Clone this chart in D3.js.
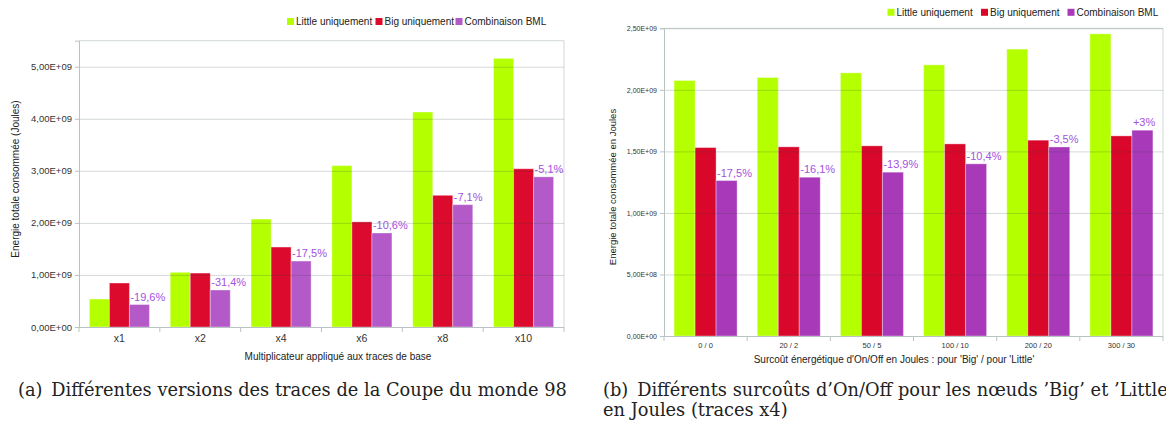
<!DOCTYPE html>
<html>
<head>
<meta charset="utf-8">
<script src="https://cdn.jsdelivr.net/npm/d3@7/dist/d3.min.js"></script>
<style>
  html, body { margin: 0; padding: 0; background: #fff; }
  svg { display: block; }
  text { font-family: "Liberation Sans", Arial, sans-serif; }
  text.caption { font-family: "DejaVu Serif", "Liberation Serif", serif; }
</style>
</head>
<body>
<svg id="fig" width="1166" height="428"></svg>
<script>
// Series names shared by both charts
const seriesNames = ["Little uniquement", "Big uniquement", "Combinaison BML"];

// (a) energy vs trace multiplier
const multCategories = ["x1", "x2", "x4", "x6", "x8", "x10"];
const multLittle = [0.537e9, 1.050e9, 2.073e9, 3.100e9, 4.130e9, 5.160e9];
const multBig    = [0.845e9, 1.036e9, 1.536e9, 2.020e9, 2.530e9, 3.040e9];
const multBML    = [0.432e9, 0.711e9, 1.267e9, 1.806e9, 2.350e9, 2.885e9];
const multGain   = ["-19,6%", "-31,4%", "-17,5%", "-10,6%", "-7,1%", "-5,1%"];
const multTicks  = [0, 1e9, 2e9, 3e9, 4e9, 5e9];
const multTickLabels = ["0,00E+00", "1,00E+09", "2,00E+09", "3,00E+09", "4,00E+09", "5,00E+09"];

// (b) energy vs On/Off overhead (traces x4)
const onoffCategories = ["0 / 0", "20 / 2", "50 / 5", "100 / 10", "200 / 20", "300 / 30"];
const onoffLittle = [2.076e9, 2.100e9, 2.138e9, 2.203e9, 2.331e9, 2.455e9];
const onoffBig    = [1.531e9, 1.537e9, 1.545e9, 1.561e9, 1.591e9, 1.626e9];
const onoffBML    = [1.263e9, 1.290e9, 1.331e9, 1.399e9, 1.536e9, 1.672e9];
const onoffGain   = ["-17,5%", "-16,1%", "-13,9%", "-10,4%", "-3,5%", "+3%"];
const onoffTicks  = [0, 0.5e9, 1e9, 1.5e9, 2e9, 2.5e9];
const onoffTickLabels = ["0,00E+00", "5,00E+08", "1,00E+09", "1,50E+09", "2,00E+09", "2,50E+09"];

const svg = d3.select("#fig");

function drawChart(cfg) {
  const g = svg.append("g");
  const x = d3.scaleBand().domain(cfg.categories).range([cfg.left, cfg.right]).padding(0);
  const xs = d3.scaleBand().domain(seriesNames).range([0, x.bandwidth()])
    .paddingInner(0).paddingOuter(cfg.groupPad);
  const y = d3.scaleLinear().domain(cfg.domain).range([cfg.bottom, cfg.top]);
  const colors = d3.scaleOrdinal().domain(seriesNames).range(cfg.colors);

  const series = [cfg.little, cfg.big, cfg.bml];
  const rows = [];
  cfg.categories.forEach((c, i) => {
    seriesNames.forEach((s, k) => rows.push({ cat: c, name: s, value: series[k][i] }));
  });

  // plot frame (top and right edges)
  g.append("path")
    .attr("d", `M${cfg.left},${y(cfg.domain[1])}H${cfg.right}V${cfg.bottom}`)
    .attr("fill", "none").attr("stroke", "#d2d9d9").attr("stroke-width", 1);

  // bars
  g.append("g").selectAll("rect").data(rows).join("rect")
    .attr("x", d => x(d.cat) + xs(d.name))
    .attr("y", d => y(d.value))
    .attr("width", xs.bandwidth())
    .attr("height", d => y(0) - y(d.value))
    .attr("fill", d => colors(d.name))
    .attr("stroke", "#ffffff").attr("stroke-opacity", 0.35).attr("stroke-width", 1);

  // horizontal grid, drawn over the bars with transparency
  g.append("g").selectAll("line").data(cfg.ticks.filter(t => t > 0)).join("line")
    .attr("x1", cfg.left).attr("x2", cfg.right)
    .attr("y1", d => y(d) + 0.5).attr("y2", d => y(d) + 0.5)
    .attr("stroke", "#2c4040").attr("stroke-opacity", 0.2).attr("stroke-width", 1);

  // y axis
  const yAxis = d3.axisLeft(y).tickValues(cfg.ticks)
    .tickFormat((d, i) => cfg.tickLabels[i]).tickSize(4).tickPadding(3);
  const ya = g.append("g").attr("transform", `translate(${cfg.left},0)`).call(yAxis);
  ya.select(".domain").attr("stroke", "#b9c3c3");
  ya.selectAll(".tick line").attr("stroke", "#b9c3c3");
  ya.selectAll(".tick text").attr("fill", "#333").attr("font-size", cfg.tickFont)
    .attr("font-family", "Liberation Sans, Arial, sans-serif");

  // x axis: category labels at centres, ticks at group boundaries
  const xAxis = d3.axisBottom(x).tickSize(0).tickPadding(cfg.xLabelPad);
  const xa = g.append("g").attr("transform", `translate(0,${cfg.bottom})`).call(xAxis);
  xa.select(".domain").remove();
  xa.selectAll(".tick text").attr("fill", "#333").attr("font-size", cfg.xTickFont)
    .attr("font-family", "Liberation Sans, Arial, sans-serif");
  g.append("line").attr("x1", cfg.left).attr("x2", cfg.right)
    .attr("y1", cfg.bottom + 0.5).attr("y2", cfg.bottom + 0.5).attr("stroke", "#b9c3c3");
  const bounds = cfg.categories.map(c => x(c)).concat([cfg.right]);
  g.append("g").selectAll("line").data(bounds).join("line")
    .attr("x1", d => d).attr("x2", d => d)
    .attr("y1", cfg.bottom).attr("y2", cfg.bottom + 5)
    .attr("stroke", "#b9c3c3");

  // percentage labels above the BML bars
  g.append("g").selectAll("text").data(cfg.categories).join("text")
    .attr("x", (c) => x(c) + xs(seriesNames[2]) + 1)
    .attr("y", (c, i) => y(cfg.bml[i]) - 4)
    .attr("font-size", 11).attr("fill", "#a352de")
    .text((c, i) => cfg.gain[i]);

  // axis titles
  g.append("text")
    .attr("transform", `translate(${cfg.yTitleX},${cfg.yTitleY}) rotate(-90)`)
    .attr("text-anchor", "middle").attr("font-size", cfg.titleFont).attr("fill", "#222")
    .text(cfg.yTitle);
  g.append("text")
    .attr("x", cfg.xTitleX).attr("y", cfg.xTitleY)
    .attr("text-anchor", "middle").attr("font-size", cfg.xTitleFont).attr("fill", "#222")
    .text(cfg.xTitle);

  // legend
  const lg = g.append("g");
  seriesNames.forEach((s, k) => {
    lg.append("rect").attr("x", cfg.legendX[k]).attr("y", cfg.legendY - 3.5)
      .attr("width", 7).attr("height", 7).attr("fill", colors(s));
    lg.append("text").attr("x", cfg.legendX[k] + 9).attr("y", cfg.legendY + 3.5)
      .attr("font-size", 10).attr("fill", "#222").text(s);
  });
}

drawChart({
  categories: multCategories, little: multLittle, big: multBig, bml: multBML, gain: multGain,
  ticks: multTicks, tickLabels: multTickLabels, domain: [0, 5.5e9],
  left: 79, right: 564, top: 40.7, bottom: 327, groupPad: 0.52,
  colors: ["#b4ff00", "#dc0a2c", "#b45ac8"],
  tickFont: 9.5, xTickFont: 10.5, xLabelPad: 8, titleFont: 10, xTitleFont: 10,
  yTitle: "Energie totale consommée (Joules)", yTitleX: 19, yTitleY: 179,
  xTitle: "Multiplicateur appliqué aux traces de base", xTitleX: 338, xTitleY: 360,
  legendX: [287, 375.5, 455.5], legendY: 21.5
});

drawChart({
  categories: onoffCategories, little: onoffLittle, big: onoffBig, bml: onoffBML, gain: onoffGain,
  ticks: onoffTicks, tickLabels: onoffTickLabels, domain: [0, 2.5e9],
  left: 664, right: 1163, top: 28.3, bottom: 336, groupPad: 0.48,
  colors: ["#b4ff00", "#d9082a", "#a83ab9"],
  tickFont: 7, xTickFont: 7.5, xLabelPad: 7, titleFont: 9.5, xTitleFont: 10,
  yTitle: "Energie totale consommée en Joules", yTitleX: 616, yTitleY: 187,
  xTitle: "Surcoût énergétique d'On/Off en Joules : pour 'Big' / pour 'Little'", xTitleX: 894, xTitleY: 362.5,
  legendX: [887.5, 981, 1067.5], legendY: 12.3
});

// sub-figure captions
const cap = svg.append("g").attr("font-size", 17.8).attr("fill", "#222");
cap.append("text").attr("class", "caption").attr("x", 18).attr("y", 396)
  .text("(a)\u2002Différentes versions des traces de la Coupe du monde 98");
const capBText = "(b)\u2002Différents surcoûts d’On/Off pour les nœuds ’Big’ et ’Little’";
const capB = cap.append("text").attr("class", "caption").attr("x", 603).attr("y", 396)
  .text(capBText);
cap.append("text").attr("class", "caption").attr("x", 603).attr("y", 416)
  .text("en Joules (traces x4)");

// the first caption line of (b) is justified: widen its word gaps so the
// last word lands on the column edge
const lastWord = capBText.lastIndexOf("’Little’");
const lastStart = capB.node().getStartPositionOfChar(lastWord).x;
const gaps = (capBText.slice(0, lastWord).match(/ /g) || []).length;
capB.attr("word-spacing", Math.max(0, (1114 - lastStart) / gaps));
</script>
</body>
</html>
